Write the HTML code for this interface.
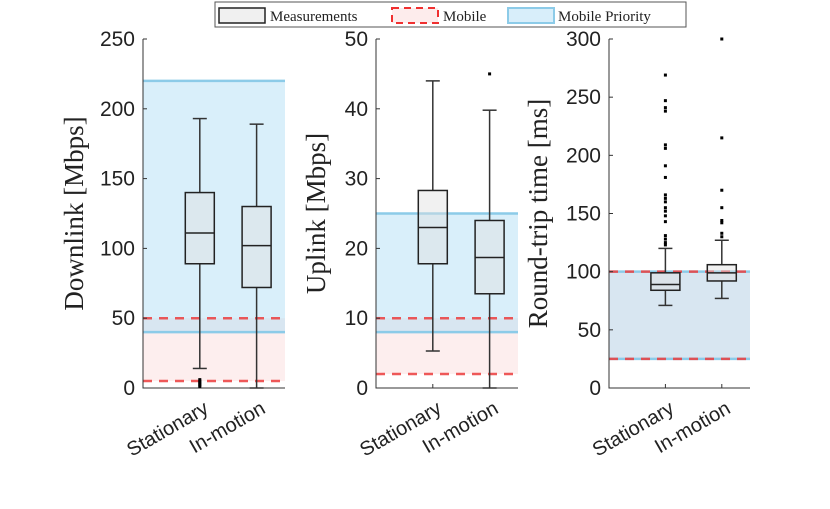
<!DOCTYPE html>
<html><head><meta charset="utf-8"><style>
body{margin:0;background:#fff;}
svg text{font-family:"Liberation Sans",Arial,sans-serif;}
.serif{font-family:"Liberation Serif","DejaVu Serif",serif;}
</style></head><body>
<svg id="chart" width="830" height="504" viewBox="0 0 830 504" xmlns="http://www.w3.org/2000/svg">
<g>
<rect x="215" y="2" width="471" height="25" fill="#fff" stroke="#555" stroke-width="1"/>
<rect x="219" y="8" width="46" height="15" fill="#f0f0f0" stroke="#222" stroke-width="1.5"/>
<text x="270" y="21" class="serif" font-size="15" fill="#222">Measurements</text>
<rect x="392" y="8" width="46" height="15" fill="#fdecec" stroke="#f03030" stroke-width="2" stroke-dasharray="7,5"/>
<text x="443" y="21" class="serif" font-size="15" fill="#222">Mobile</text>
<rect x="508" y="8" width="46" height="15" fill="#d8eefa" stroke="#8ccbe8" stroke-width="2"/>
<text x="558" y="21" class="serif" font-size="15" fill="#222">Mobile Priority</text>
</g>
<g id="panels"></g>
</svg>
<script>
const categories = ["Stationary", "In-motion"];
// panel 1: Downlink
const dlYTicks = [0, 50, 100, 150, 200, 250];
const dlStats = [[14, 89, 111, 140, 193], [0, 72, 102, 130, 189]];
const dlOutliers = [[1, 2, 3, 4, 5, 6], []];
const dlMobile = [5, 50];
const dlPriority = [40, 220];
// panel 2: Uplink
const ulYTicks = [0, 10, 20, 30, 40, 50];
const ulStats = [[5.3, 17.8, 23, 28.3, 44], [0, 13.5, 18.7, 24, 39.8]];
const ulOutliers = [[], [45]];
const ulMobile = [2, 10];
const ulPriority = [8, 25];
// panel 3: RTT
const rttYTicks = [0, 50, 100, 150, 200, 250, 300];
const rttStats = [[71, 84, 89, 99, 120], [77, 92, 99, 106, 127]];
const rttOutliers = [[123, 125, 128, 131, 143, 148, 152, 155, 160, 163, 166, 181, 191, 206, 209, 238, 241, 247, 269], [130, 133, 142, 144, 155, 170, 215, 300]];
const rttMobile = [25, 100];
const rttPriority = [25, 100];

const NS = "http://www.w3.org/2000/svg";
const root = document.getElementById("panels");
function mk(tag, attrs, parent) {
  const e = document.createElementNS(NS, tag);
  for (const k in attrs) e.setAttribute(k, attrs[k]);
  (parent || root).appendChild(e);
  return e;
}
const TOP = 39, BOT = 388;
function panel(name, x0, x1, ticks, stats, outliers, mobile, priority, ylabel, ylabelX) {
  const g = mk("g", {});
  
  
  const ymax = ticks[ticks.length - 1];
  const y = v => BOT - (v / ymax) * (BOT - TOP);
  const w = x1 - x0;
  const xc = i => x0 + w * (0.4 + 0.4 * i);
  const mr = mk("rect", {x: x0, y: y(mobile[1]), width: w, height: y(mobile[0]) - y(mobile[1]), fill: "rgba(250,200,200,0.3)"}, g);
  
  
  const pr = mk("rect", {x: x0, y: y(priority[1]), width: w, height: y(priority[0]) - y(priority[1]), fill: "rgba(170,220,245,0.45)"}, g);
  
  
  priority.forEach(v => {
    const l = mk("line", {x1: x0, x2: x1, y1: y(v), y2: y(v), stroke: "#8ccbe8", "stroke-width": 2.5}, g);
    
    
  });
  mobile.forEach(v => {
    const l = mk("line", {x1: x0, x2: x1, y1: y(v), y2: y(v), stroke: "rgba(235,60,60,0.85)", "stroke-width": 2.5, "stroke-dasharray": "9,7"}, g);
    
    
  });
  const ax = mk("path", {d: `M${x0},${TOP} L${x0},${BOT} L${x1},${BOT}`, fill: "none", stroke: "#333", "stroke-width": 1}, g);
  
  
  ticks.forEach(t => {
    mk("line", {x1: x0, x2: x0 + 4, y1: y(t), y2: y(t), stroke: "#333"}, g);
    const tx = mk("text", {x: x0 - 8, y: y(t) + 7, "text-anchor": "end", "font-size": 21, fill: "#222"}, g);
    tx.textContent = t;
    
    
  });
  const yl = mk("text", {x: ylabelX, y: (TOP + BOT) / 2, "text-anchor": "middle", "font-size": 27, fill: "#222", class: "serif", transform: `rotate(-90 ${ylabelX} ${(TOP + BOT) / 2})`}, g);
  yl.textContent = ylabel;
  
  
  categories.forEach((c, i) => {
    const cx = xc(i);
    const s = stats[i];
    mk("line", {x1: cx, x2: cx, y1: BOT, y2: BOT - 4, stroke: "#333"}, g);
    const lab = mk("text", {x: cx + 10, y: BOT + 24, "text-anchor": "end", "font-size": 20, fill: "#222", transform: `rotate(-30 ${cx + 10} ${BOT + 24})`}, g);
    lab.textContent = c;
    
    
    const bw = 29;
    const bg = mk("g", {}, g);
    
    
    mk("line", {x1: cx, x2: cx, y1: y(s[0]), y2: y(s[1]), stroke: "#333", "stroke-width": 1.5}, bg);
    mk("line", {x1: cx, x2: cx, y1: y(s[3]), y2: y(s[4]), stroke: "#333", "stroke-width": 1.5}, bg);
    mk("line", {x1: cx - 7, x2: cx + 7, y1: y(s[0]), y2: y(s[0]), stroke: "#333", "stroke-width": 1.5}, bg);
    mk("line", {x1: cx - 7, x2: cx + 7, y1: y(s[4]), y2: y(s[4]), stroke: "#333", "stroke-width": 1.5}, bg);
    mk("rect", {x: cx - bw / 2, y: y(s[3]), width: bw, height: y(s[1]) - y(s[3]), fill: "rgba(225,225,225,0.45)", stroke: "#222", "stroke-width": 1.5}, bg);
    mk("line", {x1: cx - bw / 2, x2: cx + bw / 2, y1: y(s[2]), y2: y(s[2]), stroke: "#222", "stroke-width": 1.5}, bg);
    outliers[i].forEach(v => {
      const o = mk("rect", {x: cx - 1.5, y: y(v) - 1.5, width: 3, height: 3, fill: "#000"}, bg);
      
      
    });
  });
}
panel("downlink", 143, 285, dlYTicks, dlStats, dlOutliers, dlMobile, dlPriority, "Downlink [Mbps]", 83);
panel("uplink", 376, 518, ulYTicks, ulStats, ulOutliers, ulMobile, ulPriority, "Uplink [Mbps]", 325);
panel("rtt", 609, 750, rttYTicks, rttStats, rttOutliers, rttMobile, rttPriority, "Round-trip time [ms]", 547);
</script>
</body></html>
